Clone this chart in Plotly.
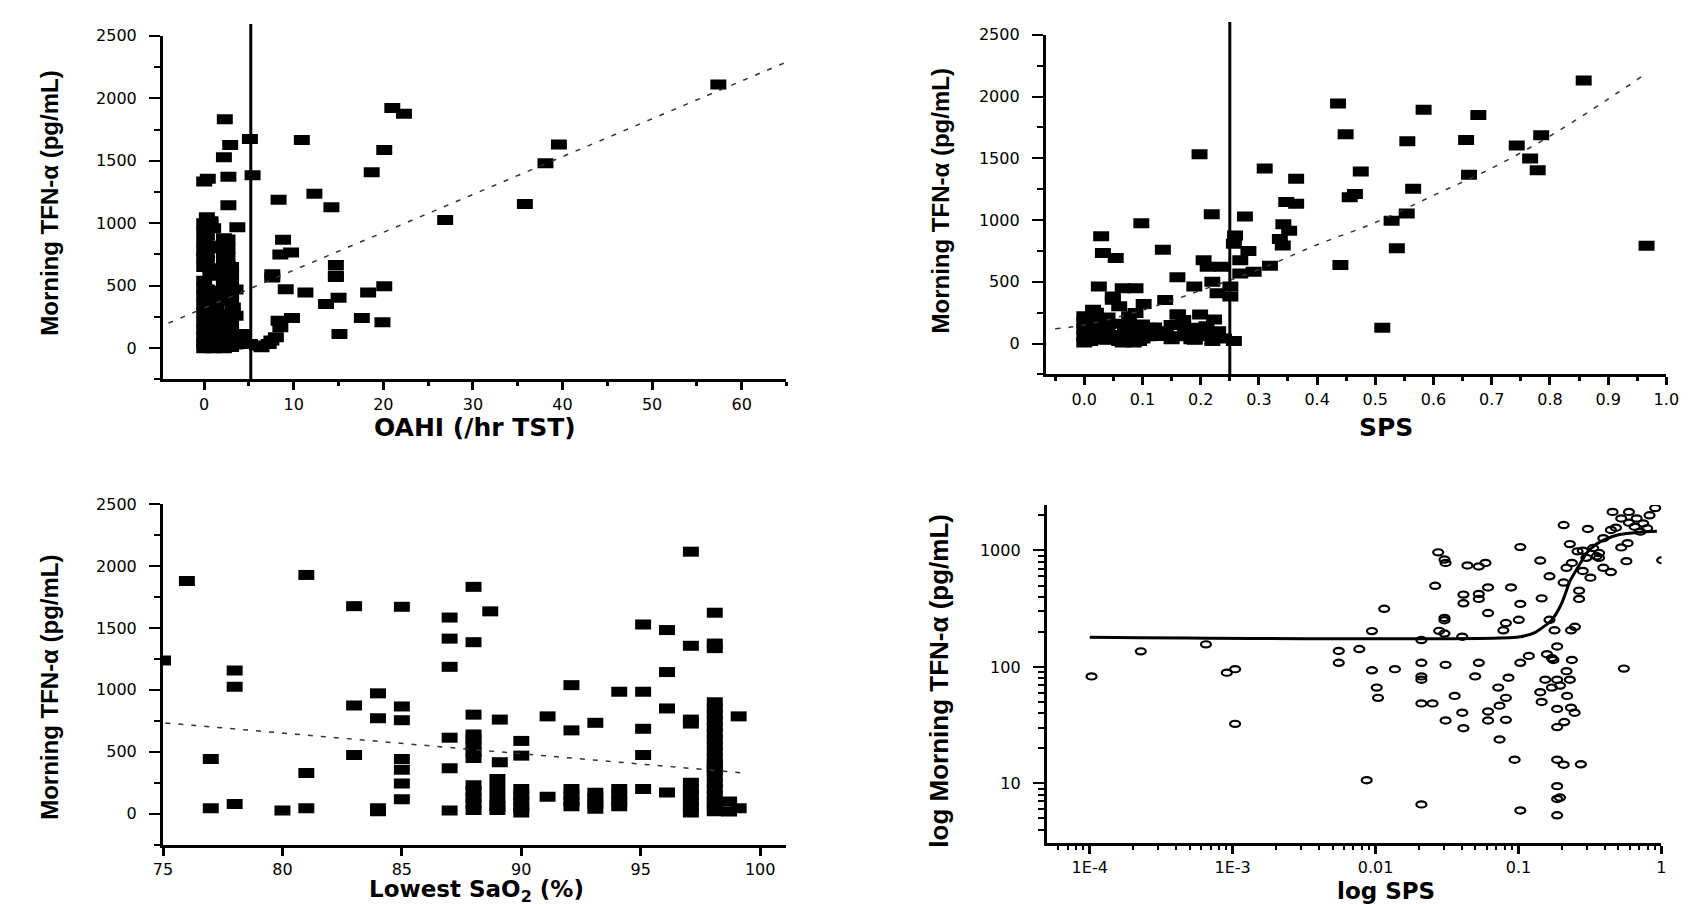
import numpy as np
import plotly.graph_objects as go

W, H = 1696, 905

# ---- top left: OAHI vs morning TNF-a
oahi = [2.3, 5.1, 10.9, 21.0, 22.3, 57.4, 2.9, 2.2, 20.1, 39.6,
        38.1, 18.7, 5.4, 2.7, 0.0, 0.4, 12.3, 8.3, 14.2, 35.8,
        2.7, 26.9, 3.7, 0.3, 0.7, 8.8, 8.5, 9.7, 14.7, 14.7,
        14.7, 7.6, 7.6, 9.1, 11.3, 18.3, 20.1, 15.0, 13.6, 9.8,
        17.6, 19.9, 15.1, 3.5, 3.2, 5.1, 6.4, 7.2, 8.0, 8.5,
        8.3, 5.9, 7.5, 4.3, 3.7,
        0.0, 0.0, 0.0, 0.0, 0.0, 0.0, 0.0, 0.0, 0.0, 0.0, 0.0, 0.0, 0.0, 0.0, 0.0, 0.0,
        0.3, 0.3, 0.3, 0.3, 0.3, 0.3, 0.3, 0.3, 0.3, 0.3, 0.3, 0.3,
        0.7, 0.7, 0.7, 0.7, 0.7, 0.7, 0.7, 0.7, 0.7, 0.7, 0.7,
        1.0, 1.0, 1.0, 1.0, 1.0, 1.0, 1.0, 1.0, 1.0,
        1.4, 1.4, 1.4, 1.4, 1.4, 1.4, 1.4,
        1.8, 1.8, 1.8, 1.8, 1.8,
        2.2, 2.2, 2.2, 2.2, 2.2, 2.2, 2.2, 2.2, 2.2, 2.2, 2.2, 2.2,
        2.6, 2.6, 2.6, 2.6, 2.6, 2.6, 2.6, 2.6, 2.6, 2.6,
        3.0, 3.0, 3.0, 3.0, 3.0, 3.0, 3.0, 3.0, 3.0,
        3.5, 3.5, 3.5,
        4.0, 4.0]
oahi_tnf = [1832, 1673, 1665, 1922, 1877, 2110, 1625, 1527, 1585, 1630,
            1479, 1408, 1384, 1371, 1333, 1355, 1235, 1188, 1127, 1153,
            1143, 1026, 968, 1047, 1015, 867, 750, 766, 665, 570,
            581, 591, 565, 472, 445, 445, 496, 403, 353, 241,
            241, 207, 114, 469, 326, 34, 8, 34, 87, 167,
            220, 21, 61, 114, 34,
            0, 40, 90, 150, 210, 280, 350, 420, 480, 540, 650, 720, 780, 850, 930, 1000,
            20, 60, 120, 190, 260, 330, 400, 470, 700, 760, 900, 1030,
            10, 80, 160, 230, 300, 380, 460, 580, 640, 820, 990,
            0, 30, 100, 170, 250, 320, 400, 800, 960,
            15, 70, 140, 210, 290, 370, 440,
            5, 50, 120, 200, 270,
            0, 40, 110, 180, 250, 500, 560, 630, 700, 760, 830, 880,
            20, 80, 150, 220, 530, 600, 660, 730, 800, 870,
            10, 60, 130, 200, 380, 430, 520, 590, 650,
            30, 90, 260,
            50, 100]
oahi_fit_x = [-4.0, 65.0]
oahi_fit_y = [200, 2290]
oahi_cut = 5.2

# ---- top right: SPS vs morning TNF-a
sps = [0.198, 0.135, 0.098, 0.029, 0.032, 0.054, 0.025, 0.049, 0.066, 0.088,
       0.102, 0.139, 0.160, 0.219, 0.205, 0.212, 0.236, 0.189, 0.220, 0.229,
       0.251, 0.251, 0.199, 0.223, 0.160, 0.257, 0.276, 0.259, 0.257, 0.282,
       0.268, 0.291, 0.268, 0.310, 0.319, 0.364, 0.347, 0.364, 0.342, 0.352,
       0.336, 0.341,
       0.0, 0.0, 0.004, 0.015, 0.017, 0.032, 0.043, 0.049, 0.060, 0.071,
       0.085, 0.102, 0.111, 0.133, 0.150, 0.161, 0.173, 0.184, 0.195, 0.212,
       0.229, 0.009, 0.026, 0.066, 0.094, 0.077, 0.088, 0.099,
       0.0, 0.0, 0.0, 0.01, 0.01, 0.01, 0.02, 0.02, 0.02, 0.03,
       0.035, 0.04, 0.04, 0.05, 0.055, 0.06, 0.07, 0.075, 0.08, 0.09,
       0.1, 0.11, 0.12, 0.14, 0.15, 0.16, 0.17, 0.18, 0.19, 0.2,
       0.21, 0.22, 0.23, 0.24,
       0.436, 0.583, 0.677, 0.858, 0.449, 0.555, 0.656, 0.785, 0.743, 0.766,
       0.779, 0.475, 0.661, 0.465, 0.456, 0.565, 0.554, 0.528, 0.537, 0.440,
       0.512, 0.966]
sps_tnf = [1532, 760, 975, 869, 733, 693, 461, 381, 448, 448,
           320, 352, 536, 1047, 674, 621, 621, 461, 501, 408,
           381, 461, 235, 195, 235, 21, 1029, 874, 808, 749,
           674, 581, 568, 1418, 629, 1335, 1146, 1133, 967, 914,
           847, 794,
           8, 168, 88, 274, 115, 195, 35, 354, 301, 88,
           8, 88, 128, 61, 35, 235, 115, 35, 128, 61,
           48, 141, 61, 8, 21, 221, 248, 155,
           60, 120, 220, 20, 100, 200, 50, 150, 250, 90,
           30, 130, 210, 70, 160, 20, 120, 50, 150, 100,
           40, 60, 130, 100, 150, 60, 190, 90, 30, 80,
           140, 20, 100, 40,
           1943, 1893, 1850, 2131, 1695, 1639, 1649, 1687, 1604, 1499,
           1404, 1393, 1367, 1211, 1185, 1253, 1053, 994, 772, 635,
           127, 791]
sps_fit_x = [-0.05, 0.0, 0.1, 0.2, 0.3, 0.4, 0.5, 0.6, 0.7, 0.8, 0.9, 0.96]
sps_fit_y = [120, 150, 270, 430, 600, 800, 980, 1200, 1420, 1680, 1980, 2170]
sps_cut = 0.25

# ---- bottom left: lowest SaO2 vs morning TNF-a
sao2 = [75.0, 76.0, 77.0, 77.0, 78.0, 78.0, 78.0, 80.0, 81.0, 81.0,
        81.0, 83.0, 83.0, 83.0, 84.0, 84.0, 84.0, 84.0, 85.0, 85.0,
        85.0, 85.0, 85.0, 85.0, 85.0, 87.0, 87.0, 87.0, 87.0, 87.0,
        87.0, 88.0, 88.0, 88.0, 88.0, 88.0, 88.0, 88.0, 88.0, 88.0,
        88.0, 88.0, 88.0, 88.0, 88.7, 89.1, 89.1, 89.0, 89.0, 89.0,
        89.0, 89.0, 90.0, 90.0, 90.0, 90.0, 90.0, 90.0, 90.0, 91.1,
        91.1, 92.1, 92.1, 92.1, 92.1, 92.1, 92.1, 93.1, 93.1, 93.1,
        93.1, 93.1, 94.1, 94.1, 94.1, 94.1, 94.1, 95.1, 95.1, 95.1,
        95.1, 95.1, 96.1, 96.1, 96.1, 96.1, 97.1, 97.1, 97.1, 97.1,
        97.1, 97.1, 97.1, 97.1, 97.1, 97.1,
        98.1, 98.1, 98.1, 98.1, 98.1, 98.1, 98.1, 98.1, 98.1, 98.1,
        98.1, 98.1, 98.1, 98.1, 98.1, 98.1, 98.1, 98.1, 98.1, 98.1,
        98.1, 98.1, 98.1, 98.7, 98.7, 99.1, 99.1]
sao2_tnf = [1237, 1880, 442, 45, 1157, 1025, 79, 26, 1928, 328,
            45, 1676, 874, 474, 972, 771, 45, 19, 1671, 866,
            755, 442, 355, 244, 117, 1584, 1414, 1186, 614, 368,
            26, 1832, 1385, 800, 640, 600, 550, 500, 450, 230,
            180, 130, 80, 30, 1634, 760, 416, 280, 200, 120,
            60, 30, 588, 469, 200, 150, 100, 50, 10, 786,
            138, 1038, 673, 200, 150, 100, 60, 734, 170, 120,
            80, 40, 985, 200, 150, 100, 60, 1528, 985, 686,
            474, 199, 1483, 1144, 850, 172, 2116, 1356, 760, 728,
            250, 200, 150, 100, 50, 10,
            1623, 1374, 1337, 900, 850, 800, 750, 700, 650, 600,
            550, 500, 450, 400, 380, 350, 300, 250, 200, 150,
            100, 60, 20, 98, 18, 45, 786]
sao2_fit_x = [75.1, 99.2]
sao2_fit_y = [733, 331]

# ---- bottom right: log SPS vs log morning TNF-a
log_sps = [9.5e-5, 2.1e-4, 6.0e-4, 8.4e-4, 9.6e-4, 9.6e-4, 0.0051, 0.0051, 0.0071, 0.0087,
           0.0087, 0.0094, 0.0096, 0.0080, 0.0106, 0.0126, 0.0193, 0.0193, 0.0193, 0.0193,
           0.0193, 0.0193, 0.0231, 0.0241, 0.0253, 0.0257, 0.028, 0.0285, 0.028, 0.028,
           0.028, 0.0285, 0.0285, 0.033, 0.0373, 0.0373, 0.038, 0.038, 0.038, 0.0405,
           0.0487, 0.0542, 0.0487, 0.0487, 0.0487, 0.0459, 0.0565, 0.0565, 0.0565, 0.0565,
           0.0666, 0.068, 0.068, 0.0723, 0.0753, 0.0785, 0.0753, 0.0753, 0.0818, 0.0867,
           0.095, 0.095, 0.0927, 0.095, 0.095, 0.109, 0.131, 0.134, 0.131, 0.134,
           0.142, 0.146, 0.152, 0.152, 0.158, 0.158, 0.162, 0.165, 0.172, 0.172,
           0.172, 0.172, 0.172, 0.172, 0.172, 0.172, 0.18, 0.18, 0.191, 0.191,
           0.191, 0.193, 0.2, 0.2, 0.202, 0.211, 0.215, 0.211, 0.215, 0.218,
           0.218, 0.228, 0.229, 0.239, 0.245, 0.245, 0.252, 0.26, 0.26, 0.275,
           0.282, 0.294, 0.307, 0.325, 0.338, 0.362, 0.362, 0.409, 0.409, 0.42,
           0.443, 0.483, 0.504, 0.525, 0.535, 0.547, 0.547, 0.619, 0.656, 0.688,
           0.762, 0.835, 0.935, 0.733, 0.6, 0.338, 0.483]
log_tnf = [78, 128, 147, 84, 90, 30.5, 129, 102, 134, 191,
           88, 62.5, 51, 10, 297, 90, 160, 102, 78, 73,
           45.7, 6.2, 45.7, 468, 907, 192, 787, 736, 248, 237,
           182, 98, 32.6, 53, 171, 38, 28, 393, 331, 700,
           686, 736, 398, 361, 102, 78, 273, 453, 39, 32.6,
           62.5, 43.7, 22.4, 194, 224, 76, 51, 33, 453, 15,
           1006, 327, 239, 102, 5.5, 117, 771, 365, 57, 47,
           73, 121, 565, 239, 112, 62.5, 108, 194, 141, 73,
           41, 28.6, 15, 8.9, 6.9, 5.0, 65, 7.1, 1556, 499,
           13.6, 31.6, 668, 86.5, 53, 73, 194, 1067, 42, 108,
           736, 38, 208, 925, 361, 425, 13.7, 937, 627, 813,
           1439, 550, 987, 839, 895, 1199, 668, 1412, 614, 2018,
           1476, 1000, 91, 762, 1088, 2018, 1629, 1772, 1366, 1607,
           1888, 2178, 776, 1459, 1506, 813, 1772]
curve_x = [1e-4, 0.1, 0.13, 0.17, 0.2, 0.23, 0.26, 0.3, 0.35, 0.4, 0.5, 0.7, 0.93]
curve_y = [180, 181, 197, 252, 349, 550, 713, 950, 1130, 1240, 1366, 1438, 1460]


def dom_x(left, right):
    return [left / W, right / W]


def dom_y(top, bottom):
    return [1 - bottom / H, 1 - top / H]


tick_font = dict(family="DejaVu Sans", size=16, color="black")
ytitle_font = dict(family="Liberation Sans", size=24, color="black", weight="bold")
xtitle_font = dict(family="DejaVu Sans", size=25, color="black", weight="bold")

base = dict(showline=True, linewidth=3, linecolor="black", ticks="outside",
            tickcolor="black", showgrid=False, zeroline=False, tickfont=tick_font)
xbase = dict(base, ticklen=8, tickwidth=3)
ybase = dict(base, ticklen=11, tickwidth=2, ticklabelstandoff=9)

# the original figure is stretched sideways, so the squares come out as wide blocks
rect = dict(symbol="line-ew", size=11.4, color="black", line=dict(width=10, color="black"))
dash_line = dict(color="#333333", width=1.5, dash="5px,8px")

fig = go.Figure()

fig.add_trace(go.Scatter(x=oahi, y=oahi_tnf, mode="markers", marker=rect, xaxis="x", yaxis="y"))
fig.add_trace(go.Scatter(x=oahi_fit_x, y=oahi_fit_y, mode="lines", line=dash_line, xaxis="x", yaxis="y"))

fig.add_trace(go.Scatter(x=sps, y=sps_tnf, mode="markers", marker=rect, xaxis="x2", yaxis="y2"))
fig.add_trace(go.Scatter(x=sps_fit_x, y=sps_fit_y, mode="lines", line=dict(dash_line, shape="spline"),
                         xaxis="x2", yaxis="y2"))

fig.add_trace(go.Scatter(x=sao2, y=sao2_tnf, mode="markers", marker=rect, xaxis="x3", yaxis="y3"))
fig.add_trace(go.Scatter(x=sao2_fit_x, y=sao2_fit_y, mode="lines", line=dash_line, xaxis="x3", yaxis="y3"))

fig.add_trace(go.Scatter(x=curve_x, y=curve_y, mode="lines",
                         line=dict(color="black", width=3, shape="spline", smoothing=0.6),
                         xaxis="x4", yaxis="y4"))

shapes = []
# cut-off lines, running a little above the plot top like in the original
shapes.append(dict(type="line", xref="x", yref="paper", x0=oahi_cut, x1=oahi_cut,
                   y0=1 - 366 / H, y1=1 - 7 / H, line=dict(color="black", width=3)))
shapes.append(dict(type="line", xref="x2", yref="paper", x0=sps_cut, x1=sps_cut,
                   y0=1 - 361 / H, y1=1 - 5 / H, line=dict(color="black", width=3)))
# open ellipses for the log-log panel (pixel sized, anchored on the data)
for xv, yv in zip(log_sps, log_tnf):
    shapes.append(dict(type="circle", xref="x4", yref="y4", xsizemode="pixel", ysizemode="pixel",
                       xanchor=xv, yanchor=yv, x0=-10, x1=10, y0=-6.2, y1=6.2,
                       line=dict(color="black", width=2.2), fillcolor="rgba(0,0,0,0)"))

log_minor_x = [k * 10.0 ** d for d in range(-5, 0) for k in range(2, 10)]
log_minor_y = [k * 10.0 ** d for d in range(0, 4) for k in range(2, 10)]

fig.update_layout(
    width=W, height=H, margin=dict(l=0, r=0, t=0, b=0),
    paper_bgcolor="white", plot_bgcolor="white", showlegend=False,
    shapes=shapes,
    xaxis=dict(xbase, domain=dom_x(147, 779), range=[-4.6, 65], tickvals=[0, 10, 20, 30, 40, 50, 60],
               minor=dict(ticks="outside", ticklen=4, tickwidth=3, tickcolor="black", dtick=5, tick0=0),
               anchor="y"),
    yaxis=dict(ybase, domain=dom_y(19, 366), range=[-250, 2500], dtick=500, tick0=0,
               minor=dict(ticks="outside", ticklen=6, tickwidth=2, tickcolor="black", dtick=250, tick0=0),
               anchor="x"),
    xaxis2=dict(xbase, domain=dom_x(1042, 1671), range=[-0.066, 1.0], dtick=0.1, tick0=0, tickformat=".1f",
                minor=dict(ticks="outside", ticklen=4, tickwidth=3, tickcolor="black", dtick=0.05, tick0=0),
                anchor="y2"),
    yaxis2=dict(ybase, domain=dom_y(18, 361), range=[-250, 2500], dtick=500, tick0=0,
                minor=dict(ticks="outside", ticklen=6, tickwidth=2, tickcolor="black", dtick=250, tick0=0),
                anchor="x2"),
    xaxis3=dict(xbase, domain=dom_x(147, 779), range=[75, 101.1], dtick=5, tick0=75, anchor="y3"),
    yaxis3=dict(ybase, domain=dom_y(492, 836), range=[-250, 2500], dtick=500, tick0=0,
                minor=dict(ticks="outside", ticklen=6, tickwidth=2, tickcolor="black", dtick=250, tick0=0),
                anchor="x3"),
    xaxis4=dict(xbase, type="log", domain=dom_x(1043, 1666), range=[-4.30, 0],
                tickvals=[1e-4, 1e-3, 0.01, 0.1, 1], ticktext=["1E-4", "1E-3", "0.01", "0.1", "1"],
                minor=dict(ticks="outside", ticklen=4, tickwidth=2, tickcolor="black", tickvals=log_minor_x),
                anchor="y4"),
    yaxis4=dict(ybase, type="log", domain=dom_y(493, 834), range=[0.49, 3.39],
                tickvals=[10, 100, 1000], ticktext=["10", "100", "1000"],
                minor=dict(ticks="outside", ticklen=6, tickwidth=2, tickcolor="black", tickvals=log_minor_y),
                anchor="x4"),
)

titles = [
    ("Morning TFN-α (pg/mL)", 32, 188, -90, ytitle_font),
    ("Morning TFN-α (pg/mL)", 935, 186, -90, ytitle_font),
    ("Morning TFN-α (pg/mL)", 32, 677, -90, ytitle_font),
    ("log Morning TFN-α (pg/mL)", 934, 670, -90, dict(ytitle_font, size=26)),
    ("OAHI (/hr TST)", 463, 415, 0, xtitle_font),
    ("SPS", 1387, 415, 0, xtitle_font),
    ("Lowest SaO<sub>2</sub> (%)", 465, 883, 0, dict(xtitle_font, size=23)),
    ("log SPS", 1387, 883, 0, dict(xtitle_font, size=23)),
]
for text, px, py, angle, font in titles:
    fig.add_annotation(text=text, x=px / W, y=1 - py / H, xref="paper", yref="paper",
                       xanchor="center", yanchor="middle", textangle=angle,
                       showarrow=False, font=font)

fig.write_html("out.html")
